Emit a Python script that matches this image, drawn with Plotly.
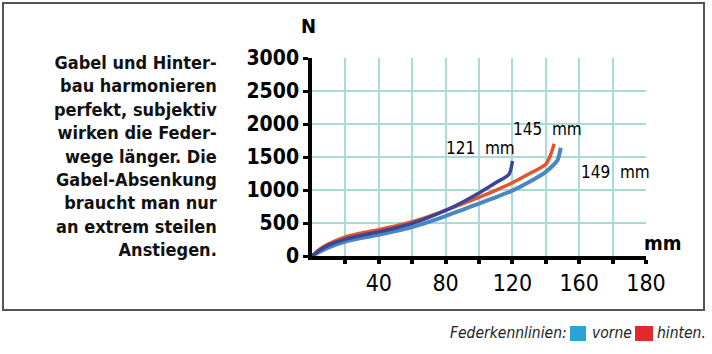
import plotly.graph_objects as go

# ---- data ----
x_navy = [0, 5, 10, 20, 30, 40, 50, 60, 70, 80, 90, 100, 110, 118, 120]
y_navy = [0, 95, 165, 255, 315, 365, 425, 495, 585, 690, 815, 955, 1110, 1240, 1440]

x_red = [0, 5, 10, 20, 30, 40, 50, 60, 70, 80, 90, 100, 110, 120, 130, 140, 143, 145]
y_red = [0, 110, 185, 290, 350, 400, 455, 520, 600, 690, 790, 890, 995, 1110, 1245, 1390, 1540, 1700]

x_blue = [0, 5, 10, 20, 30, 40, 50, 60, 70, 80, 90, 100, 110, 120, 130, 140, 145, 147, 149]
y_blue = [0, 70, 130, 220, 275, 320, 378, 440, 518, 605, 700, 795, 890, 990, 1120, 1275, 1390, 1450, 1640]

x_ticks = [20, 40, 60, 80, 100, 120, 140, 160, 180, 200]
x_ticktext = ["", "40", "", "80", "", "120", "", "160", "", "180"]
y_ticks = [0, 500, 1000, 1500, 2000, 2500, 3000]

labels = ["121  mm", "145  mm", "149  mm"]
label_x = [101, 141, 182]
label_y = [1630, 1930, 1270]

paragraph = ["Gabel und Hinter-", "bau harmonieren", "perfekt, subjektiv",
             "wirken die Feder-", "wege länger. Die", "Gabel-Absenkung",
             "braucht man nur", "an extrem steilen", "Anstiegen."]

W, H = 712, 354
L, R, T, B = 312, 646, 58, 256


def px(xp):
    return (xp - L) / (R - L)


def py(yp):
    return (B - yp) / (B - T)


NARROW = "'DejaVu Sans Condensed', 'Liberation Sans Narrow', sans-serif"
GRID = "#a9dbd7"

fig = go.Figure()
fig.add_trace(go.Scatter(x=x_blue, y=y_blue, mode="lines",
                         line=dict(color="#4a86c2", width=4, shape="spline", smoothing=0.7), hoverinfo="skip"))
fig.add_trace(go.Scatter(x=x_red, y=y_red, mode="lines",
                         line=dict(color="#e2552e", width=3.5, shape="spline", smoothing=0.7), hoverinfo="skip"))
fig.add_trace(go.Scatter(x=x_navy, y=y_navy, mode="lines",
                         line=dict(color="#3a4595", width=3.5, shape="spline", smoothing=0.7), hoverinfo="skip"))

fig.update_layout(
    width=W, height=H,
    margin=dict(l=L, r=W - R, t=T, b=H - B),
    paper_bgcolor="white", plot_bgcolor="white",
    showlegend=False,
    xaxis=dict(range=[0, 200], tickvals=x_ticks, ticktext=x_ticktext,
               showgrid=True, gridcolor=GRID, gridwidth=2,
               showline=True, linecolor="black", linewidth=3.5,
               ticks="outside", ticklen=4, tickwidth=3.5, tickcolor="black",
               zeroline=False,
               tickfont=dict(family=NARROW, size=23, color="black")),
    yaxis=dict(range=[0, 3000], tickvals=y_ticks,
               showgrid=True, gridcolor=GRID, gridwidth=2,
               showline=True, linecolor="black", linewidth=3.5,
               ticks="outside", ticklen=5, tickwidth=3, tickcolor="black",
               zeroline=False,
               tickfont=dict(family=NARROW, size=21, color="black", weight="bold")),
)

anns = []
for t, xv, yv in zip(labels, label_x, label_y):
    anns.append(dict(x=xv, y=yv, xref="x", yref="y", text=t, showarrow=False,
                     font=dict(family=NARROW, size=17, color="black")))

anns.append(dict(x=px(308), y=py(26), xref="paper", yref="paper", text="<b>N</b>",
                 xanchor="center", yanchor="middle", showarrow=False,
                 font=dict(family=NARROW, size=20, color="black")))
anns.append(dict(x=px(663), y=py(243), xref="paper", yref="paper", text="<b>mm</b>",
                 xanchor="center", yanchor="middle", showarrow=False,
                 font=dict(family=NARROW, size=20, color="black")))

anns.append(dict(x=px(219), y=py(156), xref="paper", yref="paper", xanchor="right",
                 yanchor="middle", align="right",
                 text="<br>".join("<b>" + s + "</b>" for s in paragraph),
                 showarrow=False, font=dict(family=NARROW, size=18, color="#111")))

# legend line at bottom
anns.append(dict(x=px(569), y=py(333), xref="paper", yref="paper", xanchor="right",
                 yanchor="middle", text="<i>Federkennlinien:</i>", showarrow=False,
                 font=dict(family=NARROW, size=15.5, color="#222")))
anns.append(dict(x=px(590), y=py(333), xref="paper", yref="paper", xanchor="left",
                 yanchor="middle", text="<i>vorne</i>", showarrow=False,
                 font=dict(family=NARROW, size=15.5, color="#222")))
anns.append(dict(x=px(655), y=py(333), xref="paper", yref="paper", xanchor="left",
                 yanchor="middle", text="<i>hinten.</i>", showarrow=False,
                 font=dict(family=NARROW, size=15.5, color="#222")))
fig.update_layout(annotations=anns)

shapes = [
    dict(type="rect", xref="paper", yref="paper", x0=px(3), x1=px(704), y0=py(3), y1=py(310),
         line=dict(color="#555", width=2), fillcolor="rgba(0,0,0,0)", layer="below"),
    dict(type="rect", xref="paper", yref="paper", x0=px(570), x1=px(586), y0=py(326), y1=py(341),
         line=dict(width=0), fillcolor="#2aa3d8"),
    dict(type="rect", xref="paper", yref="paper", x0=px(635), x1=px(653), y0=py(326), y1=py(341),
         line=dict(width=0), fillcolor="#e32a2a"),
]
fig.update_layout(shapes=shapes)

fig.write_html("out.html")
